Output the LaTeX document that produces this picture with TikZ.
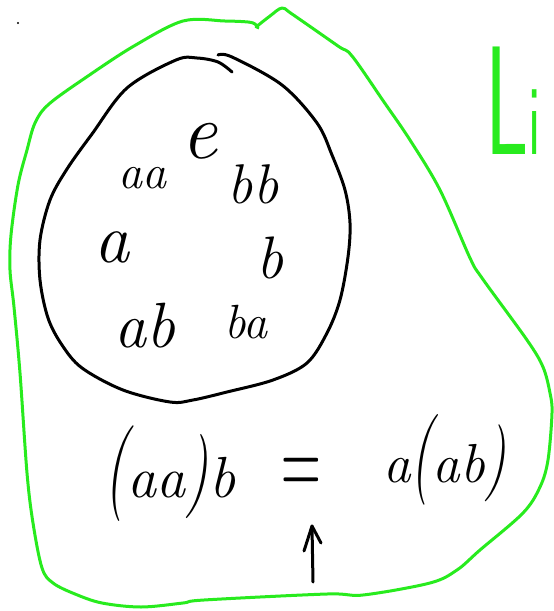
\documentclass[tikz,border=0pt]{standalone}
\usetikzlibrary{arrows.meta}
\definecolor{lime}{RGB}{40,235,30}
\newcommand{\tallp}[2]{\scalebox{1}[#1]{#2}}
\begin{document}
\begin{tikzpicture}[x=1pt,y=-1pt,
  hand/.style={line width=3pt, line cap=round, line join=round},
  letter/.style={anchor=base, inner sep=0pt, font=\fontsize{#1}{#1}\selectfont\itshape},
  letter/.default=60]
\useasboundingbox (0,0) rectangle (554,611);
% outer green region
\draw[hand, lime] plot[smooth, tension=0.55] coordinates {
  (256,27) (270,16) (282,8) (292,14) (338,46) (352,56) (384,102) (410,140)
  (440,190) (470,258) (482,278) (527,340) (543,367) (550,393) (552,413)
  (548,460) (540,487) (523,513) (480,550) (457,570) (430,583) (363,595)
  (327,594) (204,600) (183,603) (141,607) (102,603) (75,594) (53,583)
  (42,568) (33,523) (27,473) (20,373) (14,307) (10,270) (11,235) (18,185)
  (27,150) (35,123) (49,104) (88,76) (134,46) (183,21) (225,21) (248,22)
  (255,24) (258,28)};
% inner black circle
\draw[hand, black] plot[smooth, tension=0.55] coordinates {
  (218,55) (232,57) (282,85) (317,123) (332,155) (345,190) (350,223)
  (348,257) (340,300) (327,333) (307,363) (273,380) (227,392) (193,400)
  (170,402) (123,390) (82,368) (62,345) (48,318) (40,280) (40,240)
  (50,200) (67,169) (92,134) (127,88) (176,60) (197,58) (218,62) (232,72)};
% stray dot
\fill (18,23) circle (1.2pt);
% elements
\node[letter=80] (e) at (199,158) {e};
\node[letter=48] (aa) at (142,188) {aa};
\node[letter=56] (bb) at (253,203) {bb};
\node[letter=70] (a) at (112,262) {a};
\node[letter=60] (b) at (270,278) {b};
\node[letter=64] (ab) at (145,347) {ab};
\node[letter=48] (ba) at (246,338) {ba};
% equation
\node[letter=58] (lhs) at (170,497) {\tallp{1.65}{(}aa\tallp{1.45}{)}b};
\node[inner sep=0pt, font=\fontsize{58}{58}\selectfont] (eq) at (301,478) {\scalebox{0.95}[1.9]{=}};
\node[letter=55] (rhs) at (445,482) {a\tallp{1.65}{(}ab\tallp{1.4}{)}};
% arrow pointing at the equality
\coordinate (arrtail) at (313,582);
\coordinate (arrtip) at (312,526);
\coordinate (barbL) at (304,551);
\coordinate (barbR) at (321,543);
\draw[hand] (arrtail) -- (arrtip);
\draw[hand] (barbL) -- (arrtip) -- (barbR);
% green label
\node[inner sep=0pt, anchor=base, text=lime] (li) at (513,154)
  {\scalebox{0.55}[1]{\sffamily\fontsize{155}{155}\selectfont L\fontsize{100}{100}\selectfont i}};
\end{tikzpicture}
\end{document}
